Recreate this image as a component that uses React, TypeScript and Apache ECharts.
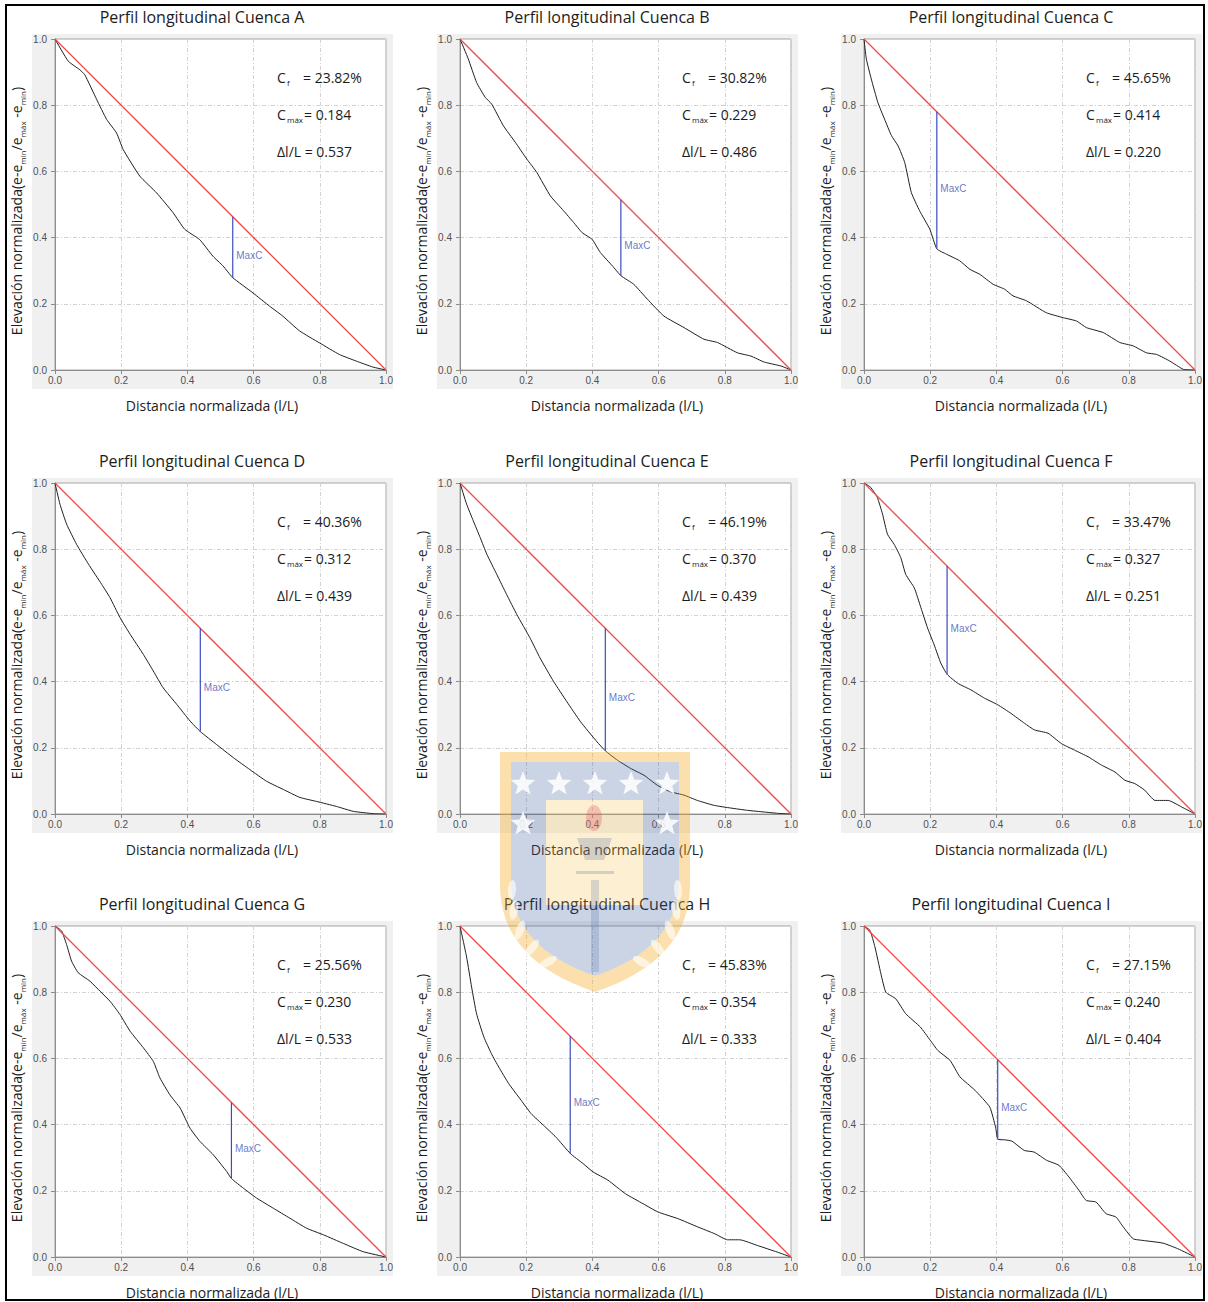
import React, { useEffect, useRef } from 'react';
import * as echarts from 'echarts';

// ---------------- DATA ----------------
const basins = ['A', 'B', 'C', 'D', 'E', 'F', 'G', 'H', 'I'];
const cfValues = ['23.82%', '30.82%', '45.65%', '40.36%', '46.19%', '33.47%', '25.56%', '45.83%', '27.15%'];
const cmaxValues = [0.184, 0.229, 0.414, 0.312, 0.370, 0.327, 0.230, 0.354, 0.240];
const dlValues = [0.537, 0.486, 0.220, 0.439, 0.439, 0.251, 0.533, 0.333, 0.404];
const axisTicks = [0, 0.2, 0.4, 0.6, 0.8, 1.0];

const profileA = [[0,1],[0.04,0.933],[0.075,0.907],[0.09,0.892],[0.126,0.817],[0.156,0.757],[0.186,0.716],[0.206,0.666],[0.256,0.586],[0.307,0.535],[0.357,0.475],[0.392,0.425],[0.437,0.394],[0.477,0.344],[0.508,0.314],[0.537,0.279],[0.598,0.233],[0.648,0.193],[0.688,0.163],[0.739,0.118],[0.799,0.082],[0.859,0.047],[0.91,0.027],[0.96,0.009],[1,0]];
const profileB = [[0,1],[0.025,0.94],[0.05,0.869],[0.076,0.824],[0.096,0.803],[0.131,0.738],[0.167,0.688],[0.202,0.637],[0.232,0.597],[0.273,0.526],[0.313,0.481],[0.343,0.446],[0.369,0.415],[0.399,0.395],[0.424,0.355],[0.46,0.315],[0.486,0.285],[0.525,0.259],[0.566,0.214],[0.616,0.163],[0.677,0.128],[0.737,0.093],[0.778,0.083],[0.838,0.052],[0.879,0.042],[0.919,0.024],[0.97,0.012],[1,0]];
const profileC = [[0,1],[0.007,0.94],[0.022,0.879],[0.042,0.808],[0.062,0.758],[0.083,0.708],[0.103,0.677],[0.123,0.627],[0.143,0.536],[0.168,0.481],[0.199,0.425],[0.22,0.366],[0.249,0.35],[0.289,0.33],[0.32,0.304],[0.35,0.289],[0.39,0.259],[0.425,0.244],[0.45,0.224],[0.491,0.209],[0.551,0.173],[0.602,0.158],[0.642,0.148],[0.672,0.128],[0.723,0.113],[0.773,0.083],[0.813,0.073],[0.853,0.052],[0.884,0.047],[0.924,0.027],[0.965,0.002],[1,0]];
const profileD = [[0,1],[0.015,0.936],[0.035,0.876],[0.065,0.815],[0.101,0.755],[0.141,0.694],[0.166,0.654],[0.196,0.594],[0.227,0.543],[0.267,0.482],[0.297,0.432],[0.327,0.381],[0.368,0.331],[0.408,0.281],[0.439,0.249],[0.488,0.21],[0.539,0.17],[0.589,0.134],[0.639,0.099],[0.69,0.074],[0.74,0.05],[0.79,0.038],[0.85,0.023],[0.901,0.008],[0.962,0.001],[1,0]];
const profileE = [[0,1],[0.02,0.936],[0.04,0.886],[0.061,0.835],[0.081,0.785],[0.111,0.724],[0.141,0.663],[0.172,0.602],[0.212,0.531],[0.242,0.471],[0.283,0.4],[0.323,0.339],[0.364,0.279],[0.414,0.218],[0.439,0.191],[0.475,0.163],[0.515,0.138],[0.556,0.117],[0.596,0.087],[0.636,0.067],[0.677,0.057],[0.717,0.041],[0.768,0.026],[0.818,0.018],[0.869,0.011],[0.919,0.006],[0.96,0.002],[1,0]];
const profileF = [[0,1],[0.02,0.987],[0.04,0.957],[0.056,0.906],[0.071,0.845],[0.091,0.815],[0.111,0.775],[0.126,0.724],[0.152,0.683],[0.172,0.623],[0.192,0.562],[0.212,0.511],[0.232,0.456],[0.251,0.422],[0.283,0.395],[0.323,0.375],[0.364,0.35],[0.404,0.33],[0.444,0.304],[0.485,0.274],[0.515,0.254],[0.556,0.244],[0.596,0.213],[0.636,0.193],[0.677,0.173],[0.717,0.148],[0.758,0.127],[0.788,0.102],[0.818,0.092],[0.848,0.072],[0.879,0.041],[0.919,0.041],[0.96,0.021],[1,0]];
const profileG = [[0,1],[0.02,0.985],[0.035,0.944],[0.05,0.894],[0.07,0.859],[0.106,0.833],[0.136,0.803],[0.166,0.773],[0.196,0.733],[0.227,0.682],[0.267,0.632],[0.297,0.591],[0.317,0.541],[0.347,0.49],[0.378,0.45],[0.408,0.389],[0.438,0.349],[0.478,0.309],[0.519,0.258],[0.533,0.237],[0.569,0.208],[0.609,0.178],[0.66,0.147],[0.71,0.117],[0.76,0.087],[0.811,0.067],[0.871,0.041],[0.931,0.016],[1,0]];
const profileH = [[0,1],[0.02,0.906],[0.035,0.816],[0.05,0.735],[0.072,0.665],[0.095,0.614],[0.117,0.574],[0.147,0.524],[0.185,0.473],[0.215,0.433],[0.252,0.398],[0.29,0.362],[0.333,0.313],[0.372,0.282],[0.402,0.257],[0.447,0.232],[0.5,0.191],[0.553,0.161],[0.598,0.136],[0.658,0.116],[0.718,0.091],[0.77,0.07],[0.808,0.052],[0.845,0.052],[0.898,0.035],[0.958,0.015],[1,0]];
const profileI = [[0,1],[0.018,0.987],[0.033,0.937],[0.051,0.856],[0.066,0.8],[0.096,0.78],[0.126,0.735],[0.17,0.695],[0.2,0.655],[0.223,0.624],[0.26,0.594],[0.29,0.544],[0.335,0.504],[0.38,0.453],[0.398,0.39],[0.404,0.356],[0.425,0.354],[0.447,0.35],[0.484,0.322],[0.514,0.317],[0.552,0.292],[0.589,0.277],[0.619,0.242],[0.649,0.202],[0.671,0.171],[0.701,0.166],[0.731,0.131],[0.761,0.121],[0.783,0.091],[0.813,0.055],[0.843,0.05],[0.903,0.042],[0.948,0.025],[1,0]];
const profiles = [profileA, profileB, profileC, profileD, profileE, profileF, profileG, profileH, profileI];
const diagonal = [[0, 1], [1, 0]];

// ---------------- LAYOUT ----------------
const W = 1208;
const H = 1302;
const colLeft = [55, 460, 864];
const rowTop = [39, 483, 926];
const plotW = 331;
const plotH = 331;
const FONT = '"Open Sans", "Noto Sans", sans-serif';
const TICKFONT = '"Liberation Sans", Arial, sans-serif';
const TEXT = '#1c1c1c';
const RED = '#f04a4a';

function txt(x: number, y: number, text: string, size: number, extra: any = {}) {
  return {
    type: 'text', x, y, z: 20, silent: true, rotation: extra.rotation || 0,
    style: {
      text, fill: extra.fill || TEXT,
      font: `normal ${size}px ${FONT}`,
      textAlign: extra.align || 'left', align: extra.align || 'left',
      textVerticalAlign: 'middle', verticalAlign: 'middle',
      rich: extra.rich,
    },
  };
}

function starPts(cx: number, cy: number, r: number) {
  const pts: number[][] = [];
  for (let i = 0; i < 10; i++) {
    const a = -Math.PI / 2 + (i * Math.PI) / 5;
    const rr = i % 2 === 0 ? r : r * 0.42;
    pts.push([cx + rr * Math.cos(a), cy + rr * Math.sin(a)]);
  }
  return pts;
}

function shieldPts(cx: number, top: number, hw: number, sb: number, bottom: number) {
  const right: number[][] = [[cx + hw, top], [cx + hw, sb]];
  const c = [cx + hw, bottom - (bottom - sb) * 0.3];
  for (let i = 1; i <= 16; i++) {
    const t = i / 16;
    const x = (1 - t) * (1 - t) * (cx + hw) + 2 * (1 - t) * t * c[0] + t * t * cx;
    const y = (1 - t) * (1 - t) * sb + 2 * (1 - t) * t * c[1] + t * t * bottom;
    right.push([x, y]);
  }
  const left = right.slice(0, right.length - 1).reverse().map((p) => [2 * cx - p[0], p[1]]);
  return [...right, ...left];
}

function withHole(outer: number[][], hole: number[][]) {
  const h = [...hole, hole[0]].reverse();
  return [...outer, outer[0], ...h];
}

function watermark() {
  const els: any[] = [];
  const outer = shieldPts(595, 752, 95, 885, 992);
  const inner = shieldPts(595, 762, 84, 880, 976);
  const rectCw = [[546, 800], [643, 800], [643, 905], [546, 905]];
  els.push({ type: 'polygon', z: 50, silent: true, shape: { points: withHole(outer, inner) }, style: { fill: 'rgba(244,173,42,0.38)' } });
  els.push({ type: 'polygon', z: 51, silent: true, shape: { points: withHole(inner, rectCw) }, style: { fill: 'rgba(63,95,159,0.27)' } });
  els.push({ type: 'polygon', z: 51, silent: true, shape: { points: rectCw }, style: { fill: 'rgba(247,195,78,0.26)' } });
  [523, 559, 595, 631, 667].forEach((x) => els.push({ type: 'polygon', z: 53, silent: true, shape: { points: starPts(x, 784, 13) }, style: { fill: 'rgba(255,255,255,0.85)' } }));
  [523, 667].forEach((x) => els.push({ type: 'polygon', z: 53, silent: true, shape: { points: starPts(x, 824, 13) }, style: { fill: 'rgba(255,255,255,0.85)' } }));
  els.push({ type: 'ellipse', z: 54, silent: true, shape: { cx: 594, cy: 818, rx: 8, ry: 13 }, style: { fill: 'rgba(229,72,90,0.28)' } });
  els.push({ type: 'polygon', z: 54, silent: true, shape: { points: [[577, 838], [612, 838], [604, 860], [585, 860]] }, style: { fill: 'rgba(63,95,159,0.22)' } });
  els.push({ type: 'rect', z: 54, silent: true, shape: { x: 576, y: 871, width: 38, height: 3 }, style: { fill: 'rgba(63,95,159,0.22)' } });
  els.push({ type: 'rect', z: 54, silent: true, shape: { x: 591, y: 880, width: 8, height: 92 }, style: { fill: 'rgba(63,95,159,0.2)' } });
  const leaves = [[548, 962, 0.5], [532, 948, 0.9], [520, 930, 1.2], [514, 910, 1.4], [512, 890, 1.5]];
  leaves.forEach(([x, y, r]) => {
    els.push({ type: 'ellipse', z: 53, silent: true, x, y, rotation: r, shape: { cx: 0, cy: 0, rx: 10, ry: 4 }, style: { fill: 'rgba(255,255,255,0.6)' } });
    els.push({ type: 'ellipse', z: 53, silent: true, x: 1190 - x, y, rotation: -r, shape: { cx: 0, cy: 0, rx: 10, ry: 4 }, style: { fill: 'rgba(255,255,255,0.6)' } });
  });
  return els;
}

function buildOption() {
  const grid: any[] = [];
  const xAxis: any[] = [];
  const yAxis: any[] = [];
  const series: any[] = [];
  const graphic: any[] = [];

  graphic.push({ type: 'rect', z: 60, silent: true, shape: { x: 6, y: 5, width: 1198, height: 1295 }, style: { fill: 'none', stroke: '#000', lineWidth: 2 } });

  basins.forEach((b, i) => {
    const col = i % 3;
    const row = Math.floor(i / 3);
    const left = colLeft[col];
    const top = rowTop[row];

    graphic.push({ type: 'rect', z: -5, silent: true, shape: { x: left - 23, y: top - 5, width: 361, height: 355 }, style: { fill: '#f0f0f0' } });

    grid.push({ left, top, width: plotW, height: plotH, show: true, backgroundColor: '#ffffff', borderColor: '#a6a6a6', borderWidth: 1 });

    const axisCommon = {
      type: 'value', gridIndex: i, min: axisTicks[0], max: axisTicks[axisTicks.length - 1], interval: axisTicks[1] - axisTicks[0],
      axisLine: { show: true, onZero: false, lineStyle: { color: '#8c8c8c', width: 1 } },
      axisTick: { show: true, length: 4, lineStyle: { color: '#8c8c8c' } },
      splitLine: { show: true, lineStyle: { color: '#d2d2d2', width: 1, type: [4, 2, 1, 2] } },
    };
    const lbl = { fontSize: 10, color: '#505050', fontFamily: TICKFONT, formatter: (v: number) => v.toFixed(1), showMinLabel: true, showMaxLabel: true };
    xAxis.push({ ...axisCommon, axisLabel: { ...lbl, margin: 5 } });
    yAxis.push({ ...axisCommon, axisLabel: { ...lbl, margin: 8 } });

    series.push({
      name: `perfil${b}`, type: 'line', xAxisIndex: i, yAxisIndex: i,
      data: profiles[i].map((p) => [p[0], p[1]]), showSymbol: false, silent: true, z: 4, smooth: 0.15,
      itemStyle: { color: '#1e1e1e' }, lineStyle: { color: '#1e1e1e', width: 1 },
    });
    const dl = dlValues[i];
    const topY = 1 - dl;
    const botY = 1 - dl - cmaxValues[i];
    series.push({
      name: `maxc${b}`, type: 'line', xAxisIndex: i, yAxisIndex: i, data: [[dl, topY], [dl, botY]], showSymbol: false, silent: true, z: 5,
      itemStyle: { color: '#3a4cc0' }, lineStyle: { color: '#3a4cc0', width: 1.2 },
      markLine: {
        silent: true, symbol: ['none', 'none'], animation: false,
        label: { show: false },
        lineStyle: { color: RED, width: 1.3, type: 'solid' },
        emphasis: { disabled: true },
        data: [[{ coord: diagonal[0] }, { coord: diagonal[1] }]],
      },
    });
    series.push({
      name: `maxcLabel${b}`, type: 'scatter', xAxisIndex: i, yAxisIndex: i, data: [[dl, (topY + botY) / 2]], symbolSize: 1, silent: true, z: 6,
      itemStyle: { color: 'rgba(0,0,0,0)' },
      label: { show: true, position: 'right', distance: 3, offset: [0, 8], formatter: 'MaxC', color: '#4454b8', fontSize: 10, fontFamily: TICKFONT },
    });

    graphic.push(txt(left + 147, top - 22, `Perfil longitudinal Cuenca ${b}`, 16, { align: 'center' }));
    graphic.push(txt(left + 157, top + 366, 'Distancia normalizada (l/L)', 14, { align: 'center' }));
    graphic.push(txt(left - 39, top + 172, '{m|Elevación normalizada(e-e}{s|min}{m|/e}{s|máx}{m| -e}{s|min}{m|)}', 14, {
      align: 'center', rotation: Math.PI / 2,
      rich: {
        m: { fontSize: 14, fontFamily: FONT, lineHeight: 20, fill: TEXT },
        s: { fontSize: 8, fontFamily: FONT, lineHeight: 8, verticalAlign: 'bottom', fill: TEXT },
      },
    }));

    const ax = left + 222;
    const y1 = top + 38, y2 = top + 75, y3 = top + 112;
    graphic.push(txt(ax, y1, 'C', 14));
    graphic.push(txt(ax + 10, y1 + 5, 'f', 8));
    graphic.push(txt(ax + 26, y1, `= ${cfValues[i]}`, 14));
    graphic.push(txt(ax, y2, 'C', 14));
    graphic.push(txt(ax + 10, y2 + 5, 'máx', 8));
    graphic.push(txt(ax + 27, y2, `= ${cmaxValues[i].toFixed(3)}`, 14));
    graphic.push(txt(ax, y3, `Δl/L = ${dlValues[i].toFixed(3)}`, 14));
  });

  graphic.push(...watermark());

  return { animation: false, backgroundColor: '#ffffff', grid, xAxis, yAxis, series, graphic };
}

export default function App() {
  const ref = useRef<HTMLDivElement>(null);
  useEffect(() => {
    if (!ref.current) return;
    const chart = echarts.init(ref.current, null, { renderer: 'svg', width: W, height: H });
    chart.setOption(buildOption() as any);
    return () => chart.dispose();
  }, []);
  return <div ref={ref} style={{ position: 'absolute', left: 0, top: 0, width: W, height: H, background: '#fff' }} />;
}
